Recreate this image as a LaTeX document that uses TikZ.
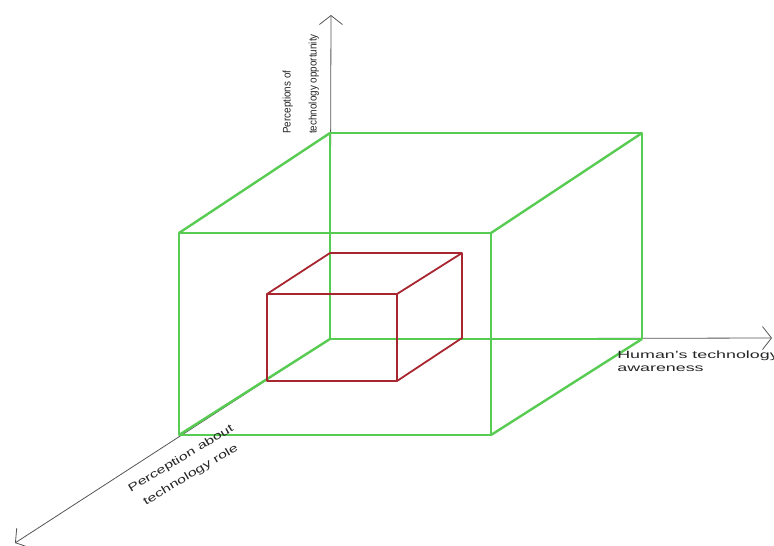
\documentclass[tikz,border=0pt]{standalone}
\usepackage{fontspec}
\setmainfont{Liberation Sans}
\usetikzlibrary{arrows.meta}
\definecolor{cubegreen}{RGB}{88,204,82}
\definecolor{cubered}{RGB}{168,38,48}
\definecolor{axisgray}{RGB}{85,85,85}

\begin{document}
\begin{tikzpicture}[x=1pt,y=-1pt,
    axis/.style={draw=axisgray,line width=.8pt,-{Straight Barb[length=9pt,width=23pt]}},
    outercube/.style={draw=cubegreen,line width=2.4pt,line join=round},
    innercube/.style={draw=cubered,line width=1.8pt,line join=round},
    axislabel/.style={inner sep=0pt,text=black!85}]
  \useasboundingbox (0,0) rectangle (774,546);
  \coordinate (O) at (330,339);
  % axes
  \draw[axis] (O) -- (331,15) coordinate (ytip);
  \draw[axis] (O) -- (772,338) coordinate (xtip);
  \draw[axis] (O) -- (15,543) coordinate (ztip);
  % outer cube
  \coordinate (B1) at (330,133); \coordinate (B2) at (642,133); \coordinate (B3) at (642,339);
  \coordinate (F1) at (179,233); \coordinate (F2) at (491,233);
  \coordinate (F3) at (491,435); \coordinate (F4) at (179,435);
  \draw[outercube] (O) -- (B1) -- (B2) -- (B3) -- cycle;
  \draw[outercube] (F1) -- (F2) -- (F3) -- (F4) -- cycle;
  \draw[outercube] (F1) -- (B1) (F2) -- (B2) (F3) -- (B3) (F4) -- (O);
  % inner cube
  \coordinate (R1) at (330,253); \coordinate (R2) at (462,253); \coordinate (R3) at (462,338);
  \coordinate (G1) at (267,294); \coordinate (G2) at (397,294);
  \coordinate (G3) at (397,381); \coordinate (G4) at (267,381);
  \draw[innercube] (G1) -- (G2) -- (G3) -- (G4) -- cycle;
  \draw[innercube] (G1) -- (R1) -- (R2) -- (R3) -- (G3) (G2) -- (R2);
  % labels
  \node[axislabel,font=\fontsize{11}{13}\selectfont,rotate=90,xscale=.9,anchor=south west,align=left]
    (opplabel) at (319,134) {Perceptions of\\[13pt]technology opportunity};
  \node[axislabel,font=\fontsize{10.5}{13}\selectfont,xscale=1.7,anchor=north west,align=left]
    (awarelabel) at (617,351) {Human's technology\\awareness};
  \node[axislabel,font=\fontsize{11}{19}\selectfont,rotate=31,xscale=1.45,align=center]
    (rolelabel) at (186,467) {Perception about\\technology role};
\end{tikzpicture}
\end{document}
